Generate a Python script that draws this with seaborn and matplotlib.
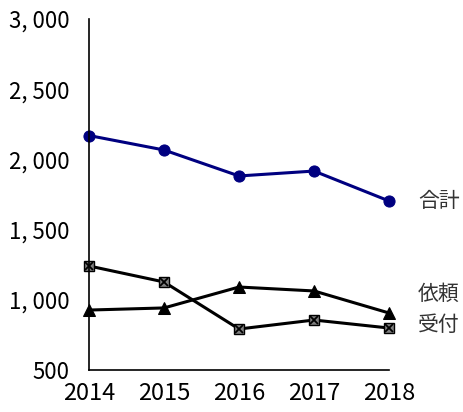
import matplotlib
matplotlib.use("Agg")
import matplotlib.pyplot as plt
import seaborn as sns
import pandas as pd
from matplotlib.ticker import FuncFormatter

years = [2014, 2015, 2016, 2017, 2018]
total = [2170, 2067, 1882, 1917, 1704]
irai = [927, 942, 1091, 1063, 906]
uketsuke = [1241, 1127, 792, 856, 799]
series_names = ["合計", "依頼", "受付"]
yticks = [500, 1000, 1500, 2000, 2500, 3000]

sns.set_style("white")
plt.rcParams['font.family'] = ['Noto Sans CJK JP', 'DejaVu Sans']

df = pd.DataFrame({"year": years, "合計": total, "依頼": irai, "受付": uketsuke})

fig = plt.figure(figsize=(4.64, 4.12), dpi=100)
ax = fig.add_axes([89/464, 42/412, 300/464, 351/412])

sns.lineplot(data=df, x="year", y="合計", ax=ax, color="#000080", lw=2.2,
             marker="o", markersize=8, markeredgecolor="#000080", clip_on=False)
sns.lineplot(data=df, x="year", y="依頼", ax=ax, color="black", lw=2.2,
             marker="^", markersize=8, markeredgecolor="black", clip_on=False)
sns.lineplot(data=df, x="year", y="受付", ax=ax, color="black", lw=2.2,
             marker="s", markersize=7.5, markerfacecolor="#808080",
             markeredgecolor="black", markeredgewidth=1, clip_on=False)
ax.plot(df["year"], df["受付"], linestyle="none", marker="x", markersize=6,
        color="black", markeredgewidth=1.3, clip_on=False)

ax.set_xlim(2014, 2018)
ax.set_ylim(500, 3000)
ax.set_xticks(years)
ax.set_yticks(yticks)
ax.yaxis.set_major_formatter(FuncFormatter(lambda v, p: f"{int(v):,}".replace(",", ", ")))
ax.set_xlabel("")
ax.set_ylabel("")
for s in ["top", "right"]:
    ax.spines[s].set_visible(False)
for s in ["left", "bottom"]:
    ax.spines[s].set_color("black")
    ax.spines[s].set_linewidth(1.2)
ax.tick_params(axis="both", direction="in", length=6, width=1, colors="black")
ax.tick_params(axis="y", pad=14, labelsize=16)
ax.tick_params(axis="x", pad=9, labelsize=17)

label_y = [total[-1], irai[-1], uketsuke[-1]]
offsets = [0, 14, 2]
for name, yv, off in zip(series_names, label_y, offsets):
    ax.annotate(name, xy=(years[-1], yv), xytext=(21, off), textcoords="offset points",
                ha="left", va="center", fontsize=15, color="#333333", annotation_clip=False)

fig.savefig("out.png", dpi=100)
